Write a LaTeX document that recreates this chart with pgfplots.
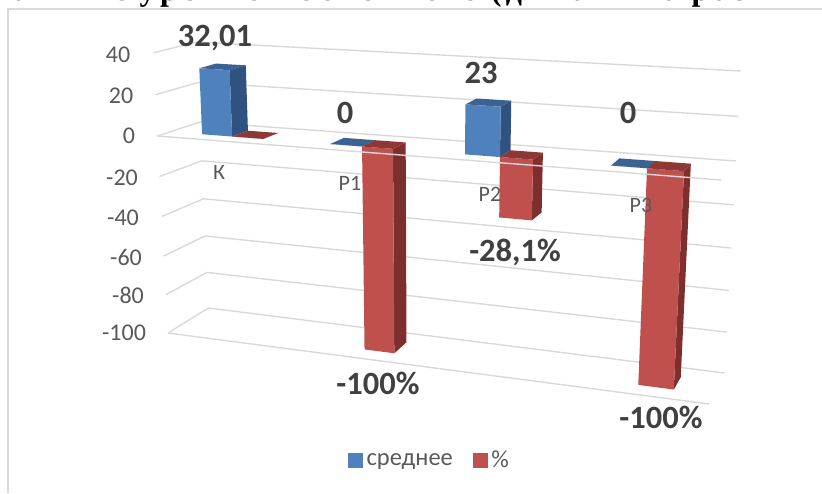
\documentclass[border=0pt]{standalone}
\usepackage{pgfplots}
\pgfplotsset{compat=1.18}
\usepackage{fontspec}
\setmainfont{Carlito}
\newfontfamily\headfont[LetterSpace=13.5]{Liberation Serif}

\definecolor{gridc}{HTML}{D9D9D9}
\definecolor{tickc}{HTML}{595959}
\definecolor{labc}{HTML}{404040}
\definecolor{bluef}{HTML}{4F81BD}
\definecolor{bluet}{HTML}{3A6394}
\definecolor{blues}{HTML}{2F5280}
\definecolor{redf}{HTML}{C0504D}
\definecolor{redt}{HTML}{8E3836}
\definecolor{reds}{HTML}{7D2F2E}

% Oblique projection of the chart box: t runs along the category axis,
% d runs from the front plane to the back wall, v is the value axis.
\newcommand\PX{((1-\thisrow{d})*((1-\thisrow{t})*(157.3-0.107*\thisrow{v})+\thisrow{t}*(721+0.12*\thisrow{v}))+\thisrow{d}*((1-\thisrow{t})*(200-0.085*\thisrow{v})+\thisrow{t}*(736+0.115*\thisrow{v})))}
\newcommand\PY{((1-\thisrow{d})*((1-\thisrow{t})*(136-2.045*\thisrow{v}-0.00075*\thisrow{v}*\thisrow{v})+\thisrow{t}*(180-2.3*\thisrow{v}-0.0006*\thisrow{v}*\thisrow{v}))+\thisrow{d}*((1-\thisrow{t})*(122-1.96*\thisrow{v}-0.001*\thisrow{v}*\thisrow{v})+\thisrow{t}*(161-2.213*\thisrow{v}-0.00093*\thisrow{v}*\thisrow{v})))}
\pgfplotsset{
  box/.style={forget plot,no markers},
  gridline/.style={box,draw=gridc,line width=1.4pt},
}
% One straight line of the box, given by its two ends
\newcommand\boxline[6]{\addplot[gridline] table[row sep=\\,x expr=\PX,y expr=\PY]{t d v\\ #1 #2 #3\\ #4 #5 #6\\};}
% One three-dimensional column: left and right edge, value, three face colours
\newcommand\column[6]{%
  \addplot[box,draw=none,fill=#6] table[row sep=\\,x expr=\PX,y expr=\PY]{t d v\\ #1 0.3 #3\\ #2 0.3 #3\\ #2 0.7 #3\\ #1 0.7 #3\\};
  \addplot[box,draw=none,fill=#5] table[row sep=\\,x expr=\PX,y expr=\PY]{t d v\\ #2 0.3 0\\ #2 0.7 0\\ #2 0.7 #3\\ #2 0.3 #3\\};
  \addplot[box,draw=none,fill=#4] table[row sep=\\,x expr=\PX,y expr=\PY]{t d v\\ #1 0.3 0\\ #2 0.3 0\\ #2 0.3 #3\\ #1 0.3 #3\\};
}
% Column reaching below the axis: its upper face lies at zero
\newcommand\negcolumn[6]{%
  \addplot[box,draw=none,fill=#5] table[row sep=\\,x expr=\PX,y expr=\PY]{t d v\\ #2 0.3 0\\ #2 0.7 0\\ #2 0.7 #3\\ #2 0.3 #3\\};
  \addplot[box,draw=none,fill=#4] table[row sep=\\,x expr=\PX,y expr=\PY]{t d v\\ #1 0.3 0\\ #2 0.3 0\\ #2 0.3 #3\\ #1 0.3 #3\\};
  \addplot[box,draw=none,fill=#6] table[row sep=\\,x expr=\PX,y expr=\PY]{t d v\\ #1 0.3 0\\ #2 0.3 0\\ #2 0.7 0\\ #1 0.7 0\\};
}

\begin{document}
\begin{tikzpicture}
\path[use as bounding box,clip] (0,0) rectangle (822pt,493pt);
\begin{axis}[
  at={(0,0)},anchor=south west,
  scale only axis,width=822pt,height=493pt,
  xmin=0,xmax=822,ymin=0,ymax=493,y dir=reverse,
  hide axis,clip=false,
  legend columns=2,
  legend style={at={(axis cs:429.5,460)},anchor=center,draw=none,fill=none,
    font=\fontsize{24.5}{28}\selectfont,text=tickc,inner sep=0pt,
    /tikz/every odd column/.append style={column sep=2pt},
    /tikz/every even column/.append style={column sep=18pt}},
]
\addlegendimage{legend image code/.code={\fill[bluef] (0pt,-7pt) rectangle (14pt,7pt);}}
\addlegendentry{среднее}
\addlegendimage{legend image code/.code={\fill[redf] (0pt,-7pt) rectangle (14pt,7pt);}}
\addlegendentry{\%}

% Frame of the chart area
\addplot[box,draw=gridc,line width=1.5pt] coordinates {(8,493) (8,9) (822,9)};

% Back wall, side wall and floor edge
\boxline{0}{1}{40}{1}{1}{40}
\boxline{0}{1}{20}{1}{1}{20}
\boxline{0}{1}{0}{1}{1}{0}
\boxline{0}{1}{-20}{1}{1}{-20}
\boxline{0}{1}{-40}{1}{1}{-40}
\boxline{0}{1}{-60}{1}{1}{-60}
\boxline{0}{1}{-80}{1}{1}{-80}
\boxline{0}{1}{-100}{1}{1}{-100}
\boxline{0}{0}{40}{0}{1}{40}
\boxline{0}{0}{20}{0}{1}{20}
\boxline{0}{0}{0}{0}{1}{0}
\boxline{0}{0}{-20}{0}{1}{-20}
\boxline{0}{0}{-40}{0}{1}{-40}
\boxline{0}{0}{-60}{0}{1}{-60}
\boxline{0}{0}{-80}{0}{1}{-80}
\boxline{0}{0}{-100}{0}{1}{-100}
\boxline{0}{0}{-100}{1}{0}{-100}

% Columns: среднее and % for each group
\column{0.0576}{0.1116}{32.01}{bluef}{blues}{bluet}
\negcolumn{0.1116}{0.1674}{0}{redf}{reds}{redt}
\column{0.2880}{0.3456}{0}{bluef}{blues}{bluet}
\negcolumn{0.3456}{0.4014}{-100}{redf}{reds}{redt}
\column{0.5310}{0.5940}{23}{bluef}{blues}{bluet}
\negcolumn{0.5940}{0.6535}{-28.1}{redf}{reds}{redt}
\column{0.7940}{0.8587}{0}{bluef}{blues}{bluet}
\negcolumn{0.8587}{0.9253}{-100}{redf}{reds}{redt}

% Category axis in front of the columns
\boxline{0}{0}{0}{1}{0}{0}

% Value axis labels
\begin{scope}[every node/.style={text=tickc,font=\fontsize{24}{28}\selectfont}]
\node at (axis cs:118,55) {40};
\node at (axis cs:121,96) {20};
\node at (axis cs:129,136) {0};
\node at (axis cs:122,178) {-20};
\node at (axis cs:123,218) {-40};
\node at (axis cs:126,257) {-60};
\node at (axis cs:128,295) {-80};
\node at (axis cs:124,333) {-100};
\end{scope}

% Category labels
\begin{scope}[every node/.style={text=tickc,font=\fontsize{22}{26}\selectfont}]
\node at (axis cs:219,172) {К};
\node at (axis cs:350,183) {Р1};
\node at (axis cs:490,194) {Р2};
\node at (axis cs:641,205) {Р3};
\end{scope}

% Value labels of the columns
\begin{scope}[every node/.style={text=labc,font=\fontsize{32.5}{38}\selectfont\bfseries}]
\node at (axis cs:215,38) {32,01};
\node at (axis cs:345,113) {0};
\node at (axis cs:481,73) {23};
\node at (axis cs:628,113) {0};
\node at (axis cs:378,383) {-100\%};
\node at (axis cs:515,252) {-28,1\%};
\node at (axis cs:661,417) {-100\%};
\end{scope}

% Heading of the page, cut off by the upper edge
\node[anchor=base west,inner sep=0pt,text=black,font=\fontsize{32}{36}\selectfont\headfont\bfseries]
  at (axis cs:13,0.5) {а};
\node[anchor=base west,inner sep=0pt,text=black,font=\fontsize{32}{36}\selectfont\headfont\bfseries]
  at (axis cs:113,0.5) {с уровнем основного (динамика раз};
\end{axis}
\end{tikzpicture}
\end{document}
